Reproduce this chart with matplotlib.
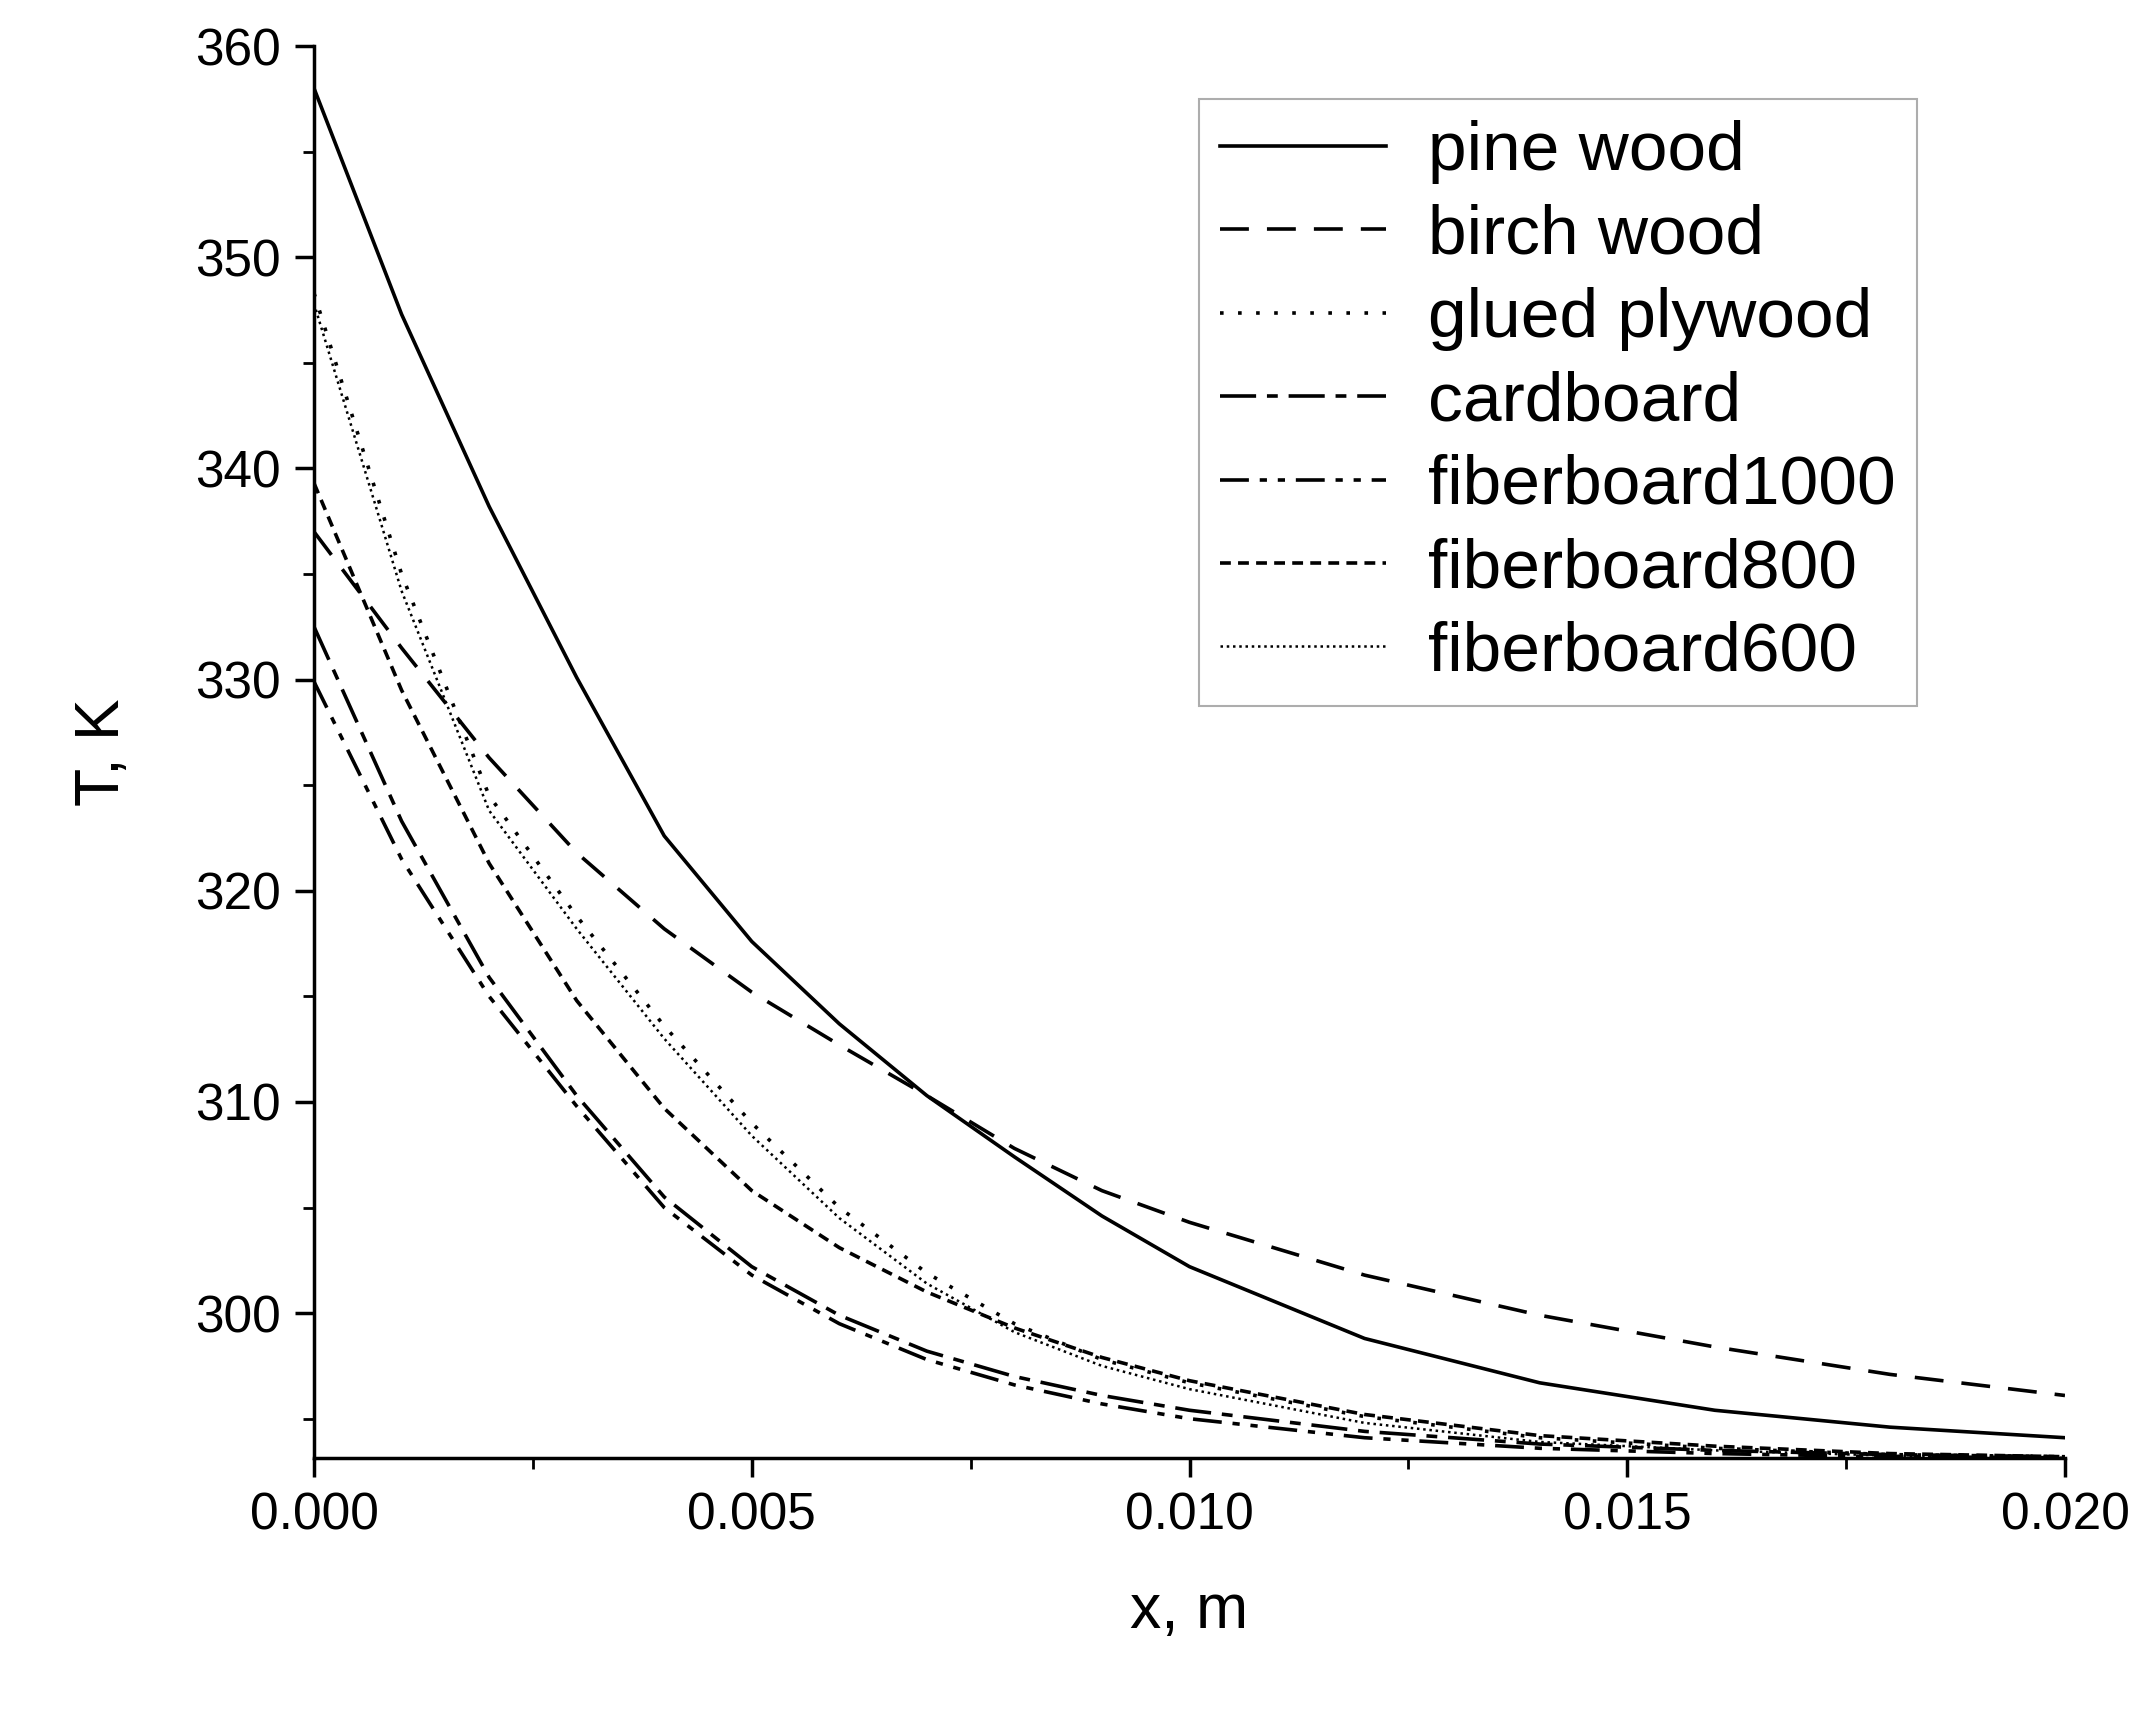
import numpy as np
import matplotlib
matplotlib.use("Agg")
import matplotlib.pyplot as plt
from matplotlib.ticker import MultipleLocator

plt.rcParams['font.family'] = ['Liberation Sans', 'DejaVu Sans']

# distance, m
x = [0, .001, .002, .003, .004, .005, .006, .007, .008, .009, .010,
     .012, .014, .016, .018, .020]

pine = [358, 347.3, 338.2, 330.1, 322.6, 317.6, 313.7, 310.3, 307.4, 304.6, 302.2,
        298.8, 296.7, 295.4, 294.6, 294.1]
birch = [337, 331.5, 326.3, 321.8, 318.2, 315.2, 312.7, 310.3, 307.8, 305.8, 304.3,
         301.8, 299.9, 298.4, 297.1, 296.1]
glued = [348.3, 335, 324.5, 318.8, 313.6, 309.0, 305.0, 301.9, 299.5, 297.8, 296.7,
         295.1, 294.1, 293.6, 293.3, 293.2]
cardboard = [332.5, 323.3, 315.9, 310.3, 305.5, 302.2, 299.9, 298.2, 297.0, 296.1, 295.4,
             294.4, 293.8, 293.5, 293.3, 293.2]
fb1000 = [329.9, 321.5, 315.0, 309.8, 305.0, 301.8, 299.5, 297.8, 296.6, 295.7, 295.0,
          294.1, 293.6, 293.35, 293.2, 293.15]
fb800 = [339.3, 329.5, 321.3, 314.8, 309.7, 305.8, 303.1, 301.0, 299.3, 297.9, 296.8,
         295.2, 294.2, 293.7, 293.35, 293.2]
fb600 = [347.8, 334.2, 323.8, 318.2, 313.0, 308.4, 304.5, 301.4, 299.1, 297.5, 296.4,
         294.8, 293.9, 293.5, 293.25, 293.15]

series = [
    ("pine wood", pine, "-", 2.6),
    ("birch wood", birch, (0, (8, 5)), 2.6),
    ("glued plywood", glued, (0, (1, 4)), 2.6),
    ("cardboard", cardboard, (0, (10, 3, 3, 3)), 2.6),
    ("fiberboard1000", fb1000, (0, (8, 3, 2, 3, 2, 3)), 2.6),
    ("fiberboard800", fb800, (0, (3, 2)), 2.6),
    ("fiberboard600", fb600, (0, (1, 1.5)), 1.8),
]

fig = plt.figure(figsize=(21.51, 17.09), dpi=100)
ax = fig.add_axes([0.146, 0.147, 0.814, 0.826])

for label, y, ls, lw in series:
    ax.plot(x, y, color="black", linestyle=ls, linewidth=lw, label=label)

ax.set_xlim(0, 0.02)
ax.set_ylim(293.15, 360)
ax.xaxis.set_major_locator(MultipleLocator(0.005))
ax.xaxis.set_minor_locator(MultipleLocator(0.0025))
ax.yaxis.set_minor_locator(MultipleLocator(5))
ax.xaxis.set_major_formatter(plt.FuncFormatter(lambda v, p: f"{v:.3f}"))
ax.set_yticks([300, 310, 320, 330, 340, 350, 360])

for s in ("top", "right"):
    ax.spines[s].set_visible(False)
for s in ("left", "bottom"):
    ax.spines[s].set_linewidth(2.5)
ax.tick_params(which="major", direction="out", length=14, width=2.5, labelsize=37, pad=10)
ax.tick_params(which="minor", direction="out", length=8, width=2)

ax.set_xlabel("x, m", fontsize=45, labelpad=30)
ax.set_ylabel("T, K", fontsize=45, labelpad=45)

leg = ax.legend(loc="upper right", bbox_to_anchor=(1390 / 1560, 1 - 72 / 1240),
                bbox_transform=fig.transFigure, fontsize=50, handlelength=2.4,
                frameon=True, fancybox=False, borderpad=0.3, labelspacing=0.28,
                handletextpad=0.6, borderaxespad=0)
leg.get_frame().set_edgecolor("#999999")
leg.get_frame().set_linewidth(1.5)

fig.savefig("out.png", dpi=100)
